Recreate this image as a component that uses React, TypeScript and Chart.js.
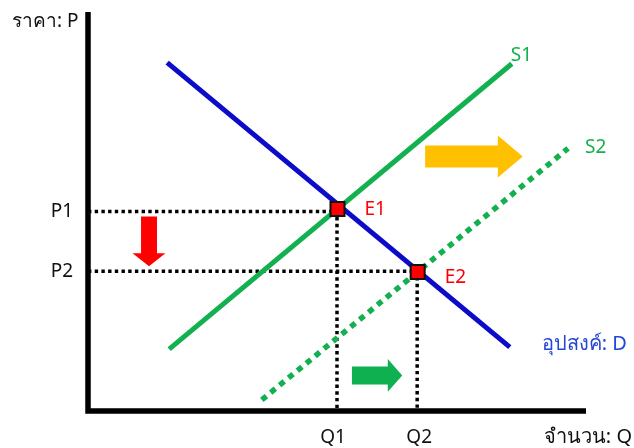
import { useEffect, useRef } from 'react';
import { Chart, registerables } from 'chart.js';

Chart.register(...registerables);

// Axis units: quantity Q and price P on a 0–100 scale
const axisMax = 100;
const demandQ = [15.9, 84.7];
const demandP = [87.3, 16.0];
const supply1Q = [16.3, 85.1];
const supply1P = [15.5, 87.0];
const supply2Q = [34.9, 96.4];
const supply2P = [2.8, 65.8];
const equilibriumLabels = ['E1', 'E2'];
const equilibriumQ = [50.1, 66.2];
const equilibriumP = [50.6, 34.8];
const priceLabels = ['P1', 'P2'];
const priceLevels = [50, 35];
const quantityLabels = ['Q1', 'Q2'];
const quantityLevels = [50, 66.1];

const BLUE = '#0b0bc9';
const GREEN = '#12b04f';
const RED = '#ff0000';
const YELLOW = '#ffc000';
const FAMILY = '"Noto Sans", Tahoma, "DejaVu Sans", sans-serif';

const pts = (xs: number[], ys: number[]) => xs.map((v, i) => ({ x: v, y: ys[i] }));

const overlay = {
  id: 'overlay',
  afterDatasetsDraw(chart: any) {
    const { ctx, scales } = chart;
    const X = (v: number) => scales.x.getPixelForValue(v);
    const Y = (v: number) => scales.y.getPixelForValue(v);
    ctx.save();

    const poly = (p: number[][], color: string) => {
      ctx.beginPath();
      p.forEach(([a, b], i) => (i ? ctx.lineTo(X(a), Y(b)) : ctx.moveTo(X(a), Y(b))));
      ctx.closePath();
      ctx.fillStyle = color;
      ctx.fill();
    };
    const hArrow = (t: number, hb: number, tip: number, c: number, bh: number, hh: number, color: string) =>
      poly(
        [
          [t, c + bh], [hb, c + bh], [hb, c + hh], [tip, c], [hb, c - hh], [hb, c - bh], [t, c - bh],
        ],
        color,
      );
    const vArrow = (c: number, t: number, hb: number, tip: number, bh: number, hh: number, color: string) =>
      poly(
        [
          [c - bh, t], [c - bh, hb], [c - hh, hb], [c, tip], [c + hh, hb], [c + bh, hb], [c + bh, t],
        ],
        color,
      );
    hArrow(67.7, 82.3, 87.3, 63.75, 2.75, 5.25, YELLOW);
    hArrow(53.0, 60.2, 63.1, 8.9, 2.25, 4.1, '#0fb04f');
    vArrow(12.25, 48.75, 39.5, 36.25, 1.6, 3.3, RED);

    ctx.font = `19px ${FAMILY}`;
    ctx.textBaseline = 'alphabetic';

    ctx.fillStyle = '#111';
    ctx.textAlign = 'right';
    priceLabels.forEach((t, i) => ctx.fillText(t, X(0) - 15, Y(priceLevels[i]) + 5.5));
    ctx.textAlign = 'center';
    quantityLabels.forEach((t, i) => ctx.fillText(t, X(quantityLevels[i]) - (i ? -2 : 4), Y(0) + 32));
    ctx.textAlign = 'left';
    ctx.fillText('ราคา: P', X(0) - 76, Y(axisMax) + 15);
    ctx.font = `20px ${FAMILY}`;
    ctx.textAlign = 'right';
    ctx.fillText('จำนวน: Q', chart.width - 2, Y(0) + 32);

    ctx.font = `19px ${FAMILY}`;
    ctx.textAlign = 'left';
    ctx.fillStyle = RED;
    ctx.fillText(equilibriumLabels[0], X(equilibriumQ[0]) + 27, Y(equilibriumP[0]) + 6);
    ctx.fillText(equilibriumLabels[1], X(equilibriumQ[1]) + 27, Y(equilibriumP[1]) + 11);

    ctx.fillStyle = GREEN;
    ctx.fillText('S1', X(supply1Q[1]) - 1, Y(supply1P[1]) - 3);
    ctx.fillText('S2', X(supply2Q[1]) + 17, Y(supply2P[1]) + 5);
    ctx.font = `20px ${FAMILY}`;
    ctx.fillStyle = '#2446d6';
    ctx.fillText('อุปสงค์: D', X(demandQ[1]) + 32, Y(demandP[1]) + 3);
    ctx.restore();
  },
};

export default function App() {
  const ref = useRef<HTMLCanvasElement>(null);
  useEffect(() => {
    if (!ref.current) return;
    const guide = {
      borderColor: '#000',
      borderWidth: 3.5,
      borderDash: [3.4, 3.3],
      borderCapStyle: 'butt',
      pointRadius: 0,
      showLine: true,
      clip: false,
      order: 4,
    };
    const chart = new Chart(ref.current, {
      type: 'scatter',
      data: {
        datasets: [
          {
            label: 'equilibrium',
            data: pts(equilibriumQ, equilibriumP),
            pointStyle: 'rect',
            pointRadius: 9.9,
            backgroundColor: RED,
            borderColor: '#111',
            borderWidth: 2,
            clip: false,
            order: 0,
          } as any,
          { label: 'D', data: pts(demandQ, demandP), showLine: true, borderColor: BLUE, borderWidth: 5, pointRadius: 0, clip: false, order: 1 },
          { label: 'S1', data: pts(supply1Q, supply1P), showLine: true, borderColor: GREEN, borderWidth: 5, pointRadius: 0, clip: false, order: 2 },
          {
            label: 'S2',
            data: pts(supply2Q, supply2P),
            showLine: true,
            borderColor: GREEN,
            borderWidth: 5.5,
            borderDash: [6, 5.5],
            borderCapStyle: 'butt',
            pointRadius: 0,
            clip: false,
            order: 3,
          } as any,
          {
            ...guide,
            label: 'P1Q1',
            data: [
              { x: 0, y: priceLevels[0] },
              { x: quantityLevels[0], y: priceLevels[0] },
              { x: quantityLevels[0], y: 0 },
            ],
          } as any,
          {
            ...guide,
            label: 'P2Q2',
            data: [
              { x: 0, y: priceLevels[1] },
              { x: quantityLevels[1], y: priceLevels[1] },
              { x: quantityLevels[1], y: 0 },
            ],
          } as any,
          {
            label: 'axes',
            data: [
              { x: 0, y: axisMax },
              { x: 0, y: 0 },
              { x: axisMax, y: 0 },
            ],
            showLine: true,
            borderColor: '#000',
            borderWidth: 5.5,
            borderJoinStyle: 'miter',
            borderCapStyle: 'butt',
            pointRadius: 0,
            clip: false,
            order: 5,
          } as any,
        ],
      },
      options: {
        animation: false,
        responsive: false,
        devicePixelRatio: 1,
        layout: { padding: { left: 88, right: 48, top: 11, bottom: 37 } },
        scales: {
          x: { type: 'linear', min: 0, max: axisMax, display: false },
          y: { type: 'linear', min: 0, max: axisMax, display: false },
        },
        plugins: { legend: { display: false }, tooltip: { enabled: false } },
      },
      plugins: [overlay],
    });
    return () => chart.destroy();
  }, []);
  return (
    <div style={{ position: 'absolute', left: 0, top: 0, width: 634, height: 448, background: '#fff' }}>
      <canvas ref={ref} width={634} height={448} style={{ display: 'block' }} />
    </div>
  );
}
